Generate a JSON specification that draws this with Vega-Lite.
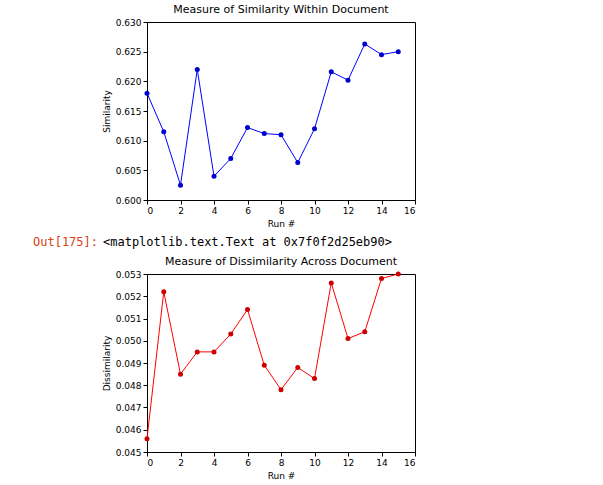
{
  "$schema": "https://vega.github.io/schema/vega-lite/v6.json",
  "background": "white",
  "padding": {"left": 33, "top": 3, "right": 5, "bottom": 2},
  "spacing": 6,
  "config": {
    "font": "DejaVu Sans",
    "view": {"stroke": "black", "strokeWidth": 1},
    "axis": {"grid": false, "domainColor": "black", "tickColor": "black", "labelColor": "black", "titleColor": "black", "labelFontSize": 9, "titleFontSize": 9, "titleFontWeight": "normal", "tickSize": 4, "tickDirection": "inward"},
    "title": {"fontSize": 11, "fontWeight": "normal", "offset": 3}
  },
  "vconcat": [
    {
      "width": 268, "height": 178,
      "title": "Measure of Similarity Within Document",
      "data": {"values": [
        {"run": 0, "v": 0.618}, {"run": 1, "v": 0.6115}, {"run": 2, "v": 0.6025}, {"run": 3, "v": 0.622},
        {"run": 4, "v": 0.604}, {"run": 5, "v": 0.607}, {"run": 6, "v": 0.6122}, {"run": 7, "v": 0.6112},
        {"run": 8, "v": 0.611}, {"run": 9, "v": 0.6063}, {"run": 10, "v": 0.612}, {"run": 11, "v": 0.6216},
        {"run": 12, "v": 0.6202}, {"run": 13, "v": 0.6263}, {"run": 14, "v": 0.6245}, {"run": 15, "v": 0.625}
      ]},
      "mark": {"type": "line", "color": "blue", "strokeWidth": 1, "point": {"color": "#0000cc", "size": 25, "filled": true, "opacity": 1}},
      "encoding": {
        "x": {"field": "run", "type": "quantitative", "title": "Run #", "scale": {"domain": [0, 16], "nice": false}, "axis": {"values": [0, 2, 4, 6, 8, 10, 12, 14, 16]}},
        "y": {"field": "v", "type": "quantitative", "title": "Similarity", "scale": {"domain": [0.6, 0.63], "nice": false, "zero": false}, "axis": {"values": [0.6, 0.605, 0.61, 0.615, 0.62, 0.625, 0.63], "format": ".3f"}}
      }
    },
    {
      "width": 268, "height": 14,
      "view": {"stroke": null},
      "data": {"values": [
        {"t": "Out[175]:", "c": "out"},
        {"t": "<matplotlib.text.Text at 0x7f0f2d25eb90>", "c": "txt"}
      ]},
      "layer": [
        {
          "transform": [{"filter": "datum.c === 'out'"}],
          "mark": {"type": "text", "font": "DejaVu Sans Mono", "fontSize": 12, "color": "#d84315", "align": "left", "x": -114, "y": 7},
          "encoding": {"text": {"field": "t"}}
        },
        {
          "transform": [{"filter": "datum.c === 'txt'"}],
          "mark": {"type": "text", "font": "DejaVu Sans Mono", "fontSize": 12, "color": "black", "align": "left", "x": -44, "y": 7},
          "encoding": {"text": {"field": "t"}}
        }
      ]
    },
    {
      "width": 268, "height": 178,
      "title": "Measure of Dissimilarity Across Document",
      "data": {"values": [
        {"run": 0, "v": 0.0456}, {"run": 1, "v": 0.0522}, {"run": 2, "v": 0.0485}, {"run": 3, "v": 0.0495},
        {"run": 4, "v": 0.0495}, {"run": 5, "v": 0.0503}, {"run": 6, "v": 0.0514}, {"run": 7, "v": 0.0489},
        {"run": 8, "v": 0.0478}, {"run": 9, "v": 0.0488}, {"run": 10, "v": 0.0483}, {"run": 11, "v": 0.0526},
        {"run": 12, "v": 0.0501}, {"run": 13, "v": 0.0504}, {"run": 14, "v": 0.0528}, {"run": 15, "v": 0.053}
      ]},
      "mark": {"type": "line", "color": "red", "strokeWidth": 1, "point": {"color": "#cc0000", "size": 25, "filled": true, "opacity": 1}},
      "encoding": {
        "x": {"field": "run", "type": "quantitative", "title": "Run #", "scale": {"domain": [0, 16], "nice": false}, "axis": {"values": [0, 2, 4, 6, 8, 10, 12, 14, 16]}},
        "y": {"field": "v", "type": "quantitative", "title": "Dissimilarity", "scale": {"domain": [0.045, 0.053], "nice": false, "zero": false}, "axis": {"values": [0.045, 0.046, 0.047, 0.048, 0.049, 0.05, 0.051, 0.052, 0.053], "format": ".3f"}}
      }
    }
  ]
}
